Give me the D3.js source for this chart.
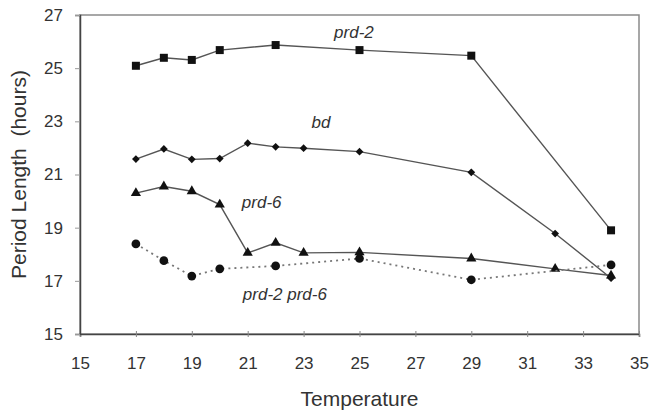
<!DOCTYPE html>
<html>
  <head>
    <meta charset="utf-8" />
    <script src="https://cdn.jsdelivr.net/npm/d3@7"></script>
    <style>
      body {
        margin: 0;
        background: #fff;
        font-family: "Liberation Sans", Arial, sans-serif;
      }
    </style>
  </head>
  <body>
    <script>
      // temperatures and period lengths
      var temps = [17, 18, 19, 20, 21, 22, 23, 25, 29, 32, 34];

      var prd2Temps = [17, 18, 19, 20, 22, 25, 29, 34];
      var prd2 = [25.09, 25.39, 25.31, 25.68, 25.87, 25.68, 25.47, 18.9];

      var bd = [21.58, 21.96, 21.57, 21.6, 22.18, 22.04, 21.99, 21.86, 21.08, 18.78, 17.1];

      var prd6 = [20.3, 20.55, 20.37, 19.87, 18.05, 18.43, 18.05, 18.07, 17.84, 17.45, 17.2];

      var doubleTemps = [17, 18, 19, 20, 22, 25, 29, 34];
      var prd2prd6 = [18.39, 17.76, 17.18, 17.45, 17.56, 17.84, 17.04, 17.6];

      var xTicks = [15, 17, 19, 21, 23, 25, 27, 29, 31, 33, 35];
      var yTicks = [15, 17, 19, 21, 23, 25, 27];

      // label anchors in data units [temperature, period]
      var labelNames = ["prd-2", "bd", "prd-6", "prd-2 prd-6"];
      var labelAt = [[24.8, 26.13], [23.62, 22.75], [21.5, 19.74], [22.33, 16.28]];

      var width = 650,
        height = 414;
      var margin = { top: 15, right: 11, bottom: 80, left: 80 };

      var svg = d3
        .select("body")
        .append("svg")
        .attr("width", width)
        .attr("height", height);

      var x = d3
        .scaleLinear()
        .domain([15, 35])
        .range([margin.left, width - margin.right]);
      var y = d3
        .scaleLinear()
        .domain([15, 27])
        .range([height - margin.bottom, margin.top]);

      // frame (top and right lighter)
      svg
        .append("rect")
        .attr("x", x(15))
        .attr("y", y(27))
        .attr("width", x(35) - x(15))
        .attr("height", y(15) - y(27))
        .attr("fill", "none")
        .attr("stroke", "#8a8a8a")
        .attr("stroke-width", 1.5);

      // axes
      var xAxis = svg
        .append("g")
        .attr("transform", "translate(0," + y(15) + ")")
        .call(d3.axisBottom(x).tickValues(xTicks).tickSize(3).tickPadding(20));
      xAxis.select(".domain").attr("stroke", "#444").attr("stroke-width", 1.5);
      xAxis
        .selectAll(".tick line")
        .attr("y1", -3)
        .attr("stroke", "#888");

      var yAxis = svg
        .append("g")
        .attr("transform", "translate(" + x(15) + ",0)")
        .call(d3.axisLeft(y).tickValues(yTicks).tickSize(5).tickPadding(12));
      yAxis.select(".domain").attr("stroke", "#444").attr("stroke-width", 1.5);
      yAxis.selectAll(".tick line").attr("stroke", "#999");

      svg
        .selectAll(".tick text")
        .attr("font-family", "'Liberation Sans', Arial, sans-serif")
        .attr("font-size", 17)
        .attr("fill", "#333");

      // axis titles
      svg
        .append("text")
        .attr("x", (x(15) + x(35)) / 2)
        .attr("y", 406)
        .attr("text-anchor", "middle")
        .attr("font-size", 21)
        .attr("fill", "#333")
        .text("Temperature");

      svg
        .append("text")
        .attr("transform", "translate(26," + (y(15) + y(27)) / 2 + ") rotate(-90)")
        .attr("text-anchor", "middle")
        .attr("font-size", 21)
        .attr("fill", "#333")
        .style("white-space", "pre")
        .text("Period Length  (hours)");

      var line = d3
        .line()
        .x(function (d) {
          return x(d[0]);
        })
        .y(function (d) {
          return y(d[1]);
        });

      function pairs(xs, ys) {
        return xs.map(function (t, i) {
          return [t, ys[i]];
        });
      }

      var series = [
        { pts: pairs(prd2Temps, prd2), symbol: d3.symbolSquare, size: 64, rot: 0, dash: null },
        { pts: pairs(temps, bd), symbol: d3.symbolSquare, size: 30, rot: 45, dash: null },
        { pts: pairs(temps, prd6), symbol: d3.symbolTriangle, size: 45, rot: 0, dash: null },
        { pts: pairs(doubleTemps, prd2prd6), symbol: d3.symbolCircle, size: 60, rot: 0, dash: "2,4" },
      ];

      series.forEach(function (s) {
        svg
          .append("path")
          .datum(s.pts)
          .attr("d", line)
          .attr("fill", "none")
          .attr("stroke", s.dash ? "#777" : "#555")
          .attr("stroke-width", s.dash ? 1.8 : 1.4)
          .attr("stroke-dasharray", s.dash);

        svg
          .selectAll(null)
          .data(s.pts)
          .enter()
          .append("path")
          .attr("d", d3.symbol().type(s.symbol).size(s.size))
          .attr("transform", function (d) {
            return "translate(" + x(d[0]) + "," + y(d[1]) + ") rotate(" + s.rot + ")";
          })
          .attr("fill", "#111");
      });

      // series labels
      svg
        .selectAll(".lab")
        .data(labelNames)
        .enter()
        .append("text")
        .attr("class", "lab")
        .attr("x", function (d, i) {
          return x(labelAt[i][0]);
        })
        .attr("y", function (d, i) {
          return y(labelAt[i][1]);
        })
        .attr("text-anchor", "middle")
        .attr("font-size", 17)
        .attr("font-style", "italic")
        .attr("fill", "#333")
        .text(function (d) {
          return d;
        });
    </script>
  </body>
</html>
